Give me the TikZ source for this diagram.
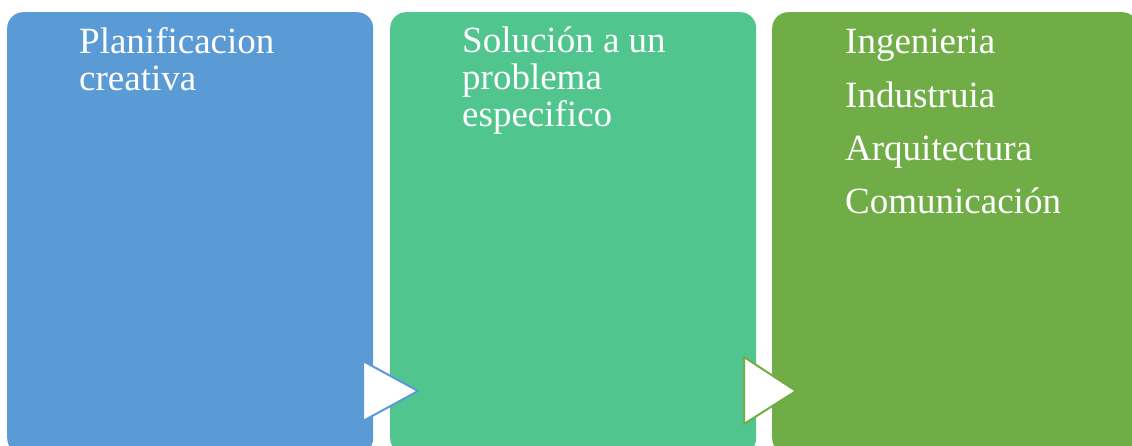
\documentclass[tikz,border=0pt]{standalone}
\usepackage{fontspec}
\setmainfont{Liberation Serif}
\definecolor{cblue}{HTML}{5B9BD5}
\definecolor{cgreen}{HTML}{50C58D}
\definecolor{colive}{HTML}{70AD47}
\tikzset{
  panel/.style={rounded corners=16pt, draw=none, minimum width=366pt, minimum height=442pt, anchor=north west, inner sep=0pt},
  ptext/.style={text=white, inner sep=0pt, align=left, font=\fontsize{37}{37}\selectfont},
  chevron/.style={fill=white, line width=2pt, line join=miter},
}
\begin{document}
\begin{tikzpicture}[x=1pt,y=1pt]
\useasboundingbox (0,0) rectangle (1132,-446);
\clip (0,0) rectangle (1132,-446);
\node[panel, fill=cblue]  (b1) at (7,-12) {};
\node[panel, fill=cgreen] (b2) at (390,-12) {};
\node[panel, fill=colive] (b3) at (772,-12) {};
\node[ptext, anchor=north west] (t1) at (79,-27) {Planificacion\\creativa};
\node[ptext, anchor=north west] (t2) at (462,-27) {Solución a un\\problema\\especifico};
\node[ptext, anchor=base west] (t3a) at (845,-54) {Ingenieria};
\node[ptext, anchor=base west] (t3b) at (845,-108) {Industruia};
\node[ptext, anchor=base west] (t3c) at (845,-161) {Arquitectura};
\node[ptext, anchor=base west] (t3d) at (845,-214) {Comunicación};
\draw[chevron, draw=cblue] (363,-361) -- (363,-421) -- (418,-391) -- cycle;
\draw[chevron, draw=colive] (744,-357) -- (744,-424) -- (796,-391) -- cycle;
\end{tikzpicture}
\end{document}
